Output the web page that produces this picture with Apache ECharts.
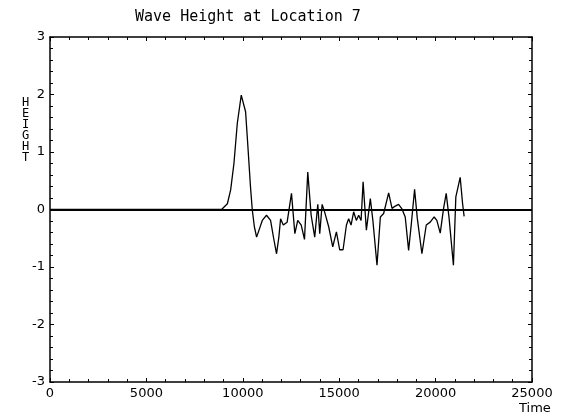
<!DOCTYPE html>
<html>
<head>
<meta charset="utf-8">
<script src="https://cdn.jsdelivr.net/npm/echarts@6/dist/echarts.min.js"></script>
<style>
  html, body { margin: 0; padding: 0; background: #fff; }
  #chart { width: 564px; height: 417px; }
</style>
</head>
<body>
<div id="chart"></div>
<script>
// Wave height record: time stamps and surface elevation at location 7
const times = [
  0, 8900, 9200, 9370, 9540, 9715, 9920, 10145, 10265, 10400, 10490,
  10600, 10715, 10850, 11010, 11230, 11440, 11600, 11750, 11870, 11960,
  12100, 12300, 12525, 12700, 12850, 13030, 13200, 13370, 13545, 13730,
  13890, 13990, 14115, 14250, 14455, 14665, 14855, 15025, 15200, 15375,
  15490, 15615, 15750, 15890, 16010, 16135, 16240, 16410, 16615, 16750,
  16960, 17135, 17305, 17565, 17740, 17910, 18080, 18255, 18425, 18600,
  18735, 18910, 19050, 19290, 19515, 19720, 19925, 20065, 20240, 20410,
  20550, 20700, 20925, 21050, 21275, 21400, 21480
];
const heights = [
  0, 0, 0.10, 0.34, 0.80, 1.50, 1.99, 1.70, 1.09, 0.39, 0,
  -0.30, -0.48, -0.35, -0.19, -0.10, -0.19, -0.50, -0.77, -0.48, -0.16,
  -0.27, -0.22, 0.28, -0.42, -0.19, -0.27, -0.52, 0.65, -0.10, -0.48,
  0.09, -0.42, 0.09, -0.05, -0.30, -0.65, -0.39, -0.70, -0.70, -0.27,
  -0.16, -0.27, -0.04, -0.19, -0.10, -0.19, 0.48, -0.36, 0.19, -0.20,
  -0.97, -0.13, -0.07, 0.29, 0.02, 0.06, 0.09, 0.01, -0.13, -0.71,
  -0.27, 0.35, -0.15, -0.77, -0.27, -0.22, -0.13, -0.19, -0.41, 0.01,
  0.28, -0.15, -0.97, 0.22, 0.56, 0.10, -0.12
];

const titleText = 'Wave Height at Location 7';
const yName = 'HEIGHT';
const xName = 'Time';

const xMin = 0, xMax = 25000, xStep = 5000;
const yMin = -3, yMax = 3, yStep = 1;

const ink = '#000';
const labelFont = 'DejaVu Sans';

const chart = echarts.init(document.getElementById('chart'), null, { renderer: 'canvas' });

function xAxisDef(pos, showLabels) {
  return {
    type: 'value', position: pos, min: xMin, max: xMax, interval: xStep,
    axisLine: { show: true, onZero: false, lineStyle: { color: ink, width: 1.5 } },
    axisTick: { show: true, inside: true, length: 4, lineStyle: { color: ink, width: 1 } },
    minorTick: { show: true, splitNumber: 5, length: 3, lineStyle: { color: ink, width: 1 } },
    axisLabel: { show: showLabels, color: ink, fontFamily: labelFont, fontSize: 13, margin: 5,
      formatter: v => String(v) },
    splitLine: { show: false }
  };
}
function yAxisDef(pos, showLabels) {
  return {
    type: 'value', position: pos, min: yMin, max: yMax, interval: yStep,
    axisLine: { show: true, onZero: false, lineStyle: { color: ink, width: 1.5 } },
    axisTick: { show: true, inside: true, length: 4, lineStyle: { color: ink, width: 1 } },
    minorTick: { show: true, splitNumber: 5, length: 3, lineStyle: { color: ink, width: 1 } },
    axisLabel: { show: showLabels, color: ink, fontFamily: labelFont, fontSize: 13, margin: 5,
      formatter: v => String(v) },
    splitLine: { show: false }
  };
}

chart.setOption({
  animation: false,
  backgroundColor: '#fff',
  title: [
    { text: titleText, left: 130, top: 5,
      textStyle: { fontFamily: 'DejaVu Sans Mono', fontSize: 15, fontWeight: 'normal', color: ink } },
    { text: yName.split('').join('\n'), left: 17, top: 92,
      textStyle: { fontFamily: 'DejaVu Sans Mono', fontSize: 12, lineHeight: 11, fontWeight: 'normal', color: ink } },
    { text: xName, left: 514, top: 397,
      textStyle: { fontFamily: labelFont, fontSize: 13, fontWeight: 'normal', color: ink } }
  ],
  grid: { left: 50, right: 32, top: 37, bottom: 35, containLabel: false },
  xAxis: [xAxisDef('bottom', true), xAxisDef('top', false)],
  yAxis: [yAxisDef('left', true), yAxisDef('right', false)],
  series: [{
    type: 'line',
    xAxisIndex: 0, yAxisIndex: 0,
    data: times.map((t, i) => [t, heights[i]]),
    showSymbol: false,
    lineStyle: { color: ink, width: 1.3 },
    markLine: {
      silent: true, symbol: 'none', label: { show: false },
      lineStyle: { color: ink, width: 2, type: 'solid' },
      data: [{ yAxis: 0 }]
    }
  }]
});
</script>
</body>
</html>
